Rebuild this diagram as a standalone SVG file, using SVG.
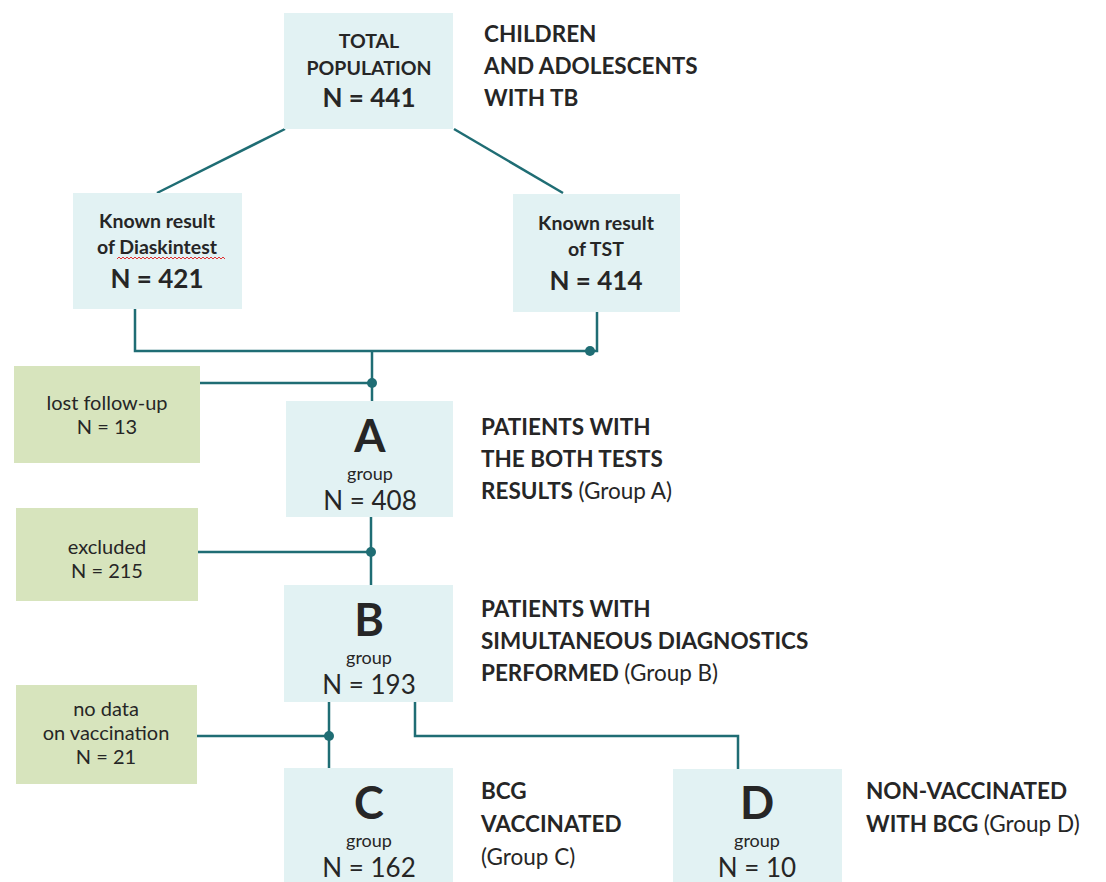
<svg xmlns="http://www.w3.org/2000/svg" width="1106" height="882" viewBox="0 0 1106 882">
<style>
.bb{fill:#e2f2f3;}
.gb{fill:#d7e4bd;}
text{font-family:Lato,"Open Sans","Liberation Sans",sans-serif;fill:#262626;}
.c{text-anchor:middle;}
.b{font-weight:bold;}
.side{font-size:22.5px;font-weight:bold;}
.side tspan.n{font-weight:normal;}
.big{font-size:45px;font-weight:bold;text-anchor:middle;}
.grp{font-size:18px;text-anchor:middle;}
.gn{font-size:26px;text-anchor:middle;}
.gt{font-size:20px;text-anchor:middle;}
.bt{font-size:19.5px;font-weight:bold;text-anchor:middle;}
.bn{font-size:26px;font-weight:bold;text-anchor:middle;}
.ln{fill:none;stroke:#1f6d74;stroke-width:2.5;}
.dot{fill:#1f6d74;}
</style>
<rect width="1106" height="882" fill="#ffffff"/>
<g id="connectors">
<path class="ln" d="M285,129 L157,193"/>
<path class="ln" d="M454,129 L563,193"/>
<path class="ln" d="M135,309 V351 H597 V312"/>
<path class="ln" d="M372,351 V401"/>
<path class="ln" d="M200,383 H372"/>
<path class="ln" d="M371,517 V585"/>
<path class="ln" d="M198,552 H371"/>
<path class="ln" d="M329,702 V768"/>
<path class="ln" d="M197,736 H329"/>
<path class="ln" d="M415,702 V736 H738 V769"/>
<circle class="dot" cx="590" cy="351" r="5"/>
<circle class="dot" cx="372" cy="383" r="5"/>
<circle class="dot" cx="371" cy="552" r="5"/>
<circle class="dot" cx="329" cy="736" r="5"/>
</g>
<g id="total">
<rect class="bb" x="284" y="13" width="169" height="116"/>
<text class="bt" x="369" y="48">TOTAL</text>
<text class="bt" x="369" y="75">POPULATION</text>
<text class="bn" x="369" y="107">N = 441</text>
<text class="side" x="484"><tspan x="484" y="42">CHILDREN</tspan><tspan x="484" y="74">AND ADOLESCENTS</tspan><tspan x="484" y="106">WITH TB</tspan></text>
</g>
<g id="diaskintest">
<rect class="bb" x="73" y="193" width="169" height="116"/>
<text class="bt" x="157" y="228">Known result</text>
<text class="bt" x="157" y="254">of Diaskintest</text>
<path d="M117,259 l2,-2 l2,2 l2,-2 l2,2 l2,-2 l2,2 l2,-2 l2,2 l2,-2 l2,2 l2,-2 l2,2 l2,-2 l2,2 l2,-2 l2,2 l2,-2 l2,2 l2,-2 l2,2 l2,-2 l2,2 l2,-2 l2,2 l2,-2 l2,2 l2,-2 l2,2 l2,-2 l2,2 l2,-2 l2,2 l2,-2 l2,2 l2,-2 l2,2 l2,-2 l2,2 l2,-2 l2,2 l2,-2 l2,2 l2,-2 l2,2 l2,-2 l2,2 l2,-2 l2,2 l2,-2 l2,2 l2,-2 l2,2 l2,-2 l2,2" fill="none" stroke="#e03030" stroke-width="1"/>
<text class="bn" x="157" y="288">N = 421</text>
</g>
<g id="tst">
<rect class="bb" x="513" y="194" width="167" height="118"/>
<text class="bt" x="596" y="230">Known result</text>
<text class="bt" x="596" y="256">of TST</text>
<text class="bn" x="596" y="290">N = 414</text>
</g>
<g id="lost">
<rect class="gb" x="14" y="366" width="186" height="97"/>
<text class="gt" x="107" y="410">lost follow-up</text>
<text class="gt" x="107" y="434">N = 13</text>
</g>
<g id="groupA">
<rect class="bb" x="286" y="401" width="167" height="116"/>
<text class="big" x="370" y="452">A</text>
<text class="grp" x="370" y="480">group</text>
<text class="gn" x="370" y="510">N = 408</text>
<text class="side" x="481"><tspan x="481" y="435">PATIENTS WITH</tspan><tspan x="481" y="467">THE BOTH TESTS</tspan><tspan x="481" y="499">RESULTS <tspan class="n">(Group A)</tspan></tspan></text>
</g>
<g id="excluded">
<rect class="gb" x="16" y="508" width="182" height="93"/>
<text class="gt" x="107" y="554">excluded</text>
<text class="gt" x="107" y="578">N = 215</text>
</g>
<g id="groupB">
<rect class="bb" x="284" y="585" width="169" height="117"/>
<text class="big" x="369" y="636">B</text>
<text class="grp" x="369" y="664">group</text>
<text class="gn" x="369" y="694">N = 193</text>
<text class="side" x="481"><tspan x="481" y="617">PATIENTS WITH</tspan><tspan x="481" y="649">SIMULTANEOUS DIAGNOSTICS</tspan><tspan x="481" y="681">PERFORMED <tspan class="n">(Group B)</tspan></tspan></text>
</g>
<g id="nodata">
<rect class="gb" x="16" y="685" width="181" height="99"/>
<text class="gt" x="106" y="716">no data</text>
<text class="gt" x="106" y="740">on vaccination</text>
<text class="gt" x="106" y="764">N = 21</text>
</g>
<g id="groupC">
<rect class="bb" x="284" y="768" width="169" height="120"/>
<text class="big" x="369" y="819">C</text>
<text class="grp" x="369" y="847">group</text>
<text class="gn" x="369" y="877">N = 162</text>
<text class="side" x="481"><tspan x="481" y="799">BCG</tspan><tspan x="481" y="832">VACCINATED</tspan><tspan class="n" x="481" y="865">(Group C)</tspan></text>
</g>
<g id="groupD">
<rect class="bb" x="673" y="769" width="169" height="120"/>
<text class="big" x="757" y="819">D</text>
<text class="grp" x="757" y="847">group</text>
<text class="gn" x="757" y="877">N = 10</text>
<text class="side" x="866"><tspan x="866" y="799">NON-VACCINATED</tspan><tspan x="866" y="832">WITH BCG <tspan class="n">(Group D)</tspan></tspan></text>
</g>
</svg>
